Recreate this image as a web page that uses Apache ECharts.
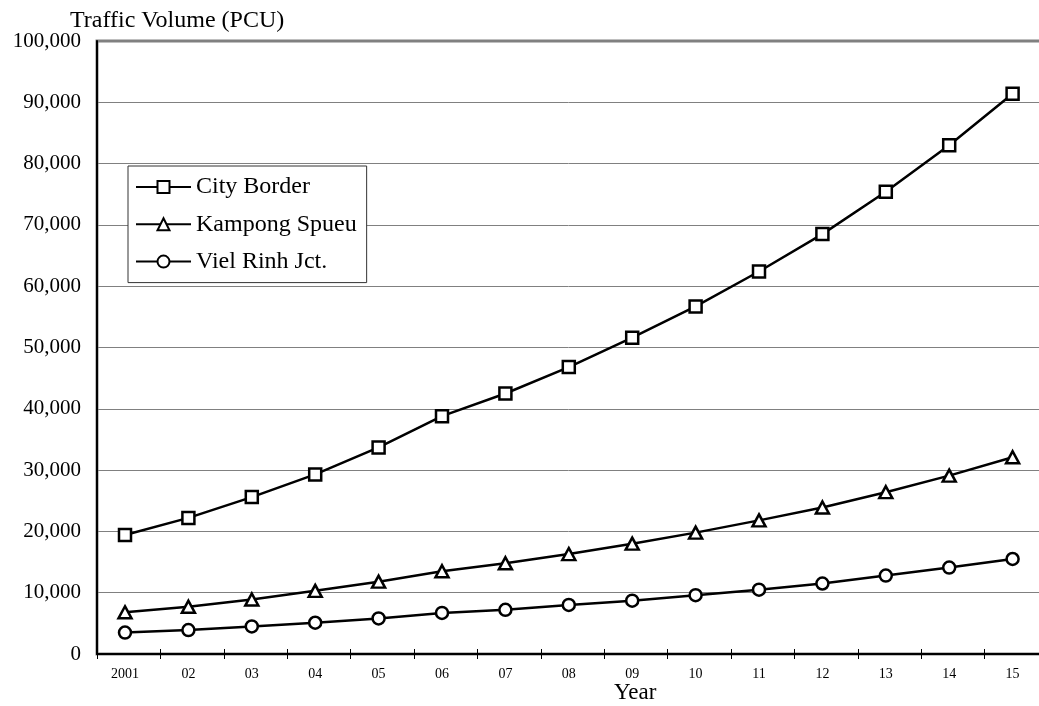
<!DOCTYPE html>
<html><head><meta charset="utf-8">
<script src="https://cdn.jsdelivr.net/npm/echarts@6/dist/echarts.min.js"></script>
<style>html,body{margin:0;padding:0;background:#fff}#c{width:1039px;height:706px}</style>
</head><body><div id="c"></div>
<script>
const years = ['2001','02','03','04','05','06','07','08','09','10','11','12','13','14','15'];
const cityBorder   = [19400, 22200, 25600, 29300, 33700, 38800, 42500, 46800, 51600, 56700, 62400, 68500, 75400, 83000, 91400];
const kampongSpueu = [6800, 7700, 8900, 10300, 11800, 13500, 14800, 16300, 18000, 19800, 21800, 23900, 26400, 29100, 32100];
const vielRinh     = [3500, 3900, 4500, 5100, 5800, 6700, 7200, 8000, 8700, 9600, 10500, 11500, 12800, 14100, 15500];
const seriesNames  = ['City Border', 'Kampong Spueu', 'Viel Rinh Jct.'];
const yMin = 0, yMax = 100000, yStep = 10000;

const FONT = "'Liberation Serif','Times New Roman',serif";
const chart = echarts.init(document.getElementById('c'), null, {renderer:'canvas'});
const txt = (size) => ({fontFamily: FONT, fontSize: size, color: '#000', fontWeight: 'normal'});
const symStyle = {color:'#fff', borderColor:'#000', borderWidth:2.5};
const lineSt = {color:'#000', width:2.5};

const option = {
  animation: false,
  backgroundColor: '#fff',
  title: [
    {text: 'Traffic Volume (PCU)', left: 70, top: 9, padding: 0, textStyle: txt(24)},
    {text: 'Year', left: 614, top: 681, padding: 0, textStyle: txt(23)}
  ],
  legend: {
    left: 128, top: 166, orient: 'vertical',
    padding: [9, 10, 9, 7], itemGap: 13.3,
    itemWidth: 55, itemHeight: 15,
    backgroundColor: '#fff', borderColor: '#333', borderWidth: 1,
    textStyle: txt(24),
    data: seriesNames
  },
  grid: [
    {left: 93.3, top: 41, width: 951, height: 613, show: false, outerBoundsMode: 'none', containLabel: false},
    {left: 97, top: 41, width: 951, height: 613, show: true, borderColor: '#808080', borderWidth: 3, backgroundColor: 'transparent', outerBoundsMode: 'none', containLabel: false}
  ],
  xAxis: [
    {gridIndex: 0, type: 'category', data: years, boundaryGap: true, position: 'bottom',
     axisLine: {show: false}, axisTick: {show: false}, splitLine: {show: false},
     axisLabel: Object.assign({margin: 13, interval: 0}, txt(14))},
    {gridIndex: 1, type: 'category', data: years, boundaryGap: true, position: 'bottom',
     axisLine: {show: true, onZero: false, lineStyle: {color: '#000', width: 2}},
     axisTick: {show: false}, axisLabel: {show: false}, splitLine: {show: false}},
    {gridIndex: 1, type: 'category', data: years, boundaryGap: true, position: 'bottom', offset: 5,
     axisLine: {show: false, onZero: false},
     axisTick: {show: true, inside: true, length: 10, interval: 0, lineStyle: {color: '#000', width: 1}},
     axisLabel: {show: false}, splitLine: {show: false}}
  ],
  yAxis: [
    {gridIndex: 0, type: 'value', min: yMin, max: yMax, show: false},
    {gridIndex: 1, type: 'value', min: yMin, max: yMax, interval: yStep,
     axisLine: {show: true, lineStyle: {color: '#000', width: 2}},
     axisTick: {show: false},
     axisLabel: Object.assign({margin: 16, formatter: v => v.toLocaleString('en-US')}, txt(21)),
     splitLine: {show: true, lineStyle: {color: '#808080', width: 1}}},
    {gridIndex: 1, type: 'value', min: yMin, max: yMax, interval: yStep, offset: 6,
     axisLine: {show: false}, axisLabel: {show: false}, splitLine: {show: false},
     axisTick: {show: true, inside: true, length: 10, lineStyle: {color: '#000', width: 1}}}
  ],
  series: [
    {name: seriesNames[0], type: 'line', xAxisIndex: 0, yAxisIndex: 0, data: cityBorder,
     symbol: 'rect', symbolSize: 12, showAllSymbol: true, itemStyle: symStyle, lineStyle: lineSt, z: 5},
    {name: seriesNames[1], type: 'line', xAxisIndex: 0, yAxisIndex: 0, data: kampongSpueu,
     symbol: 'triangle', symbolSize: [13, 12], showAllSymbol: true, itemStyle: symStyle, lineStyle: lineSt, z: 5},
    {name: seriesNames[2], type: 'line', xAxisIndex: 0, yAxisIndex: 0, data: vielRinh,
     symbol: 'circle', symbolSize: 12, showAllSymbol: true, itemStyle: symStyle, lineStyle: lineSt, z: 5}
  ]
};
chart.setOption(option);
</script></body></html>
